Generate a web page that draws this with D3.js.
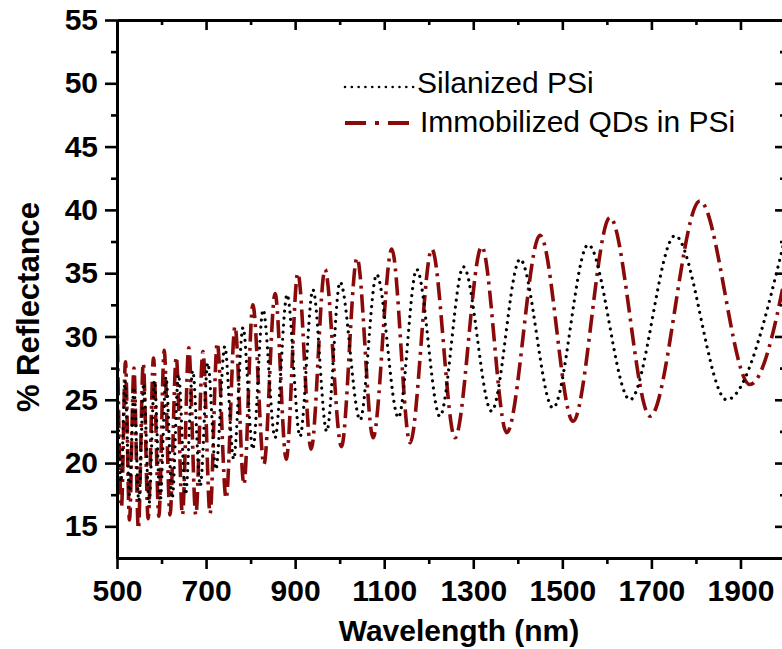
<!DOCTYPE html>
<html>
<head>
<meta charset="utf-8">
<script src="https://cdn.jsdelivr.net/npm/d3@7"></script>
<style>
  html, body { margin: 0; padding: 0; background: #fff; }
  svg { display: block; }
  text { font-family: "Liberation Sans", Arial, sans-serif; }
</style>
</head>
<body>
<div id="chart"></div>
<script>
// ---- data (fringe peaks and valleys) ----
const silWl = [500,509,518,528,538,549,560,572,584,597,610,624,638,654,670,687,704,722,742,762,783,805,828,855,882,911,940,971,1001,1046,1083,1132,1173,1225,1278,1341,1405,1479,1558,1652,1753,1869,2000];
const silR  = [27.0,18.5,26.5,17.5,26.0,17.0,26.3,16.8,26.5,17.0,26.8,17.2,27.0,17.5,27.3,18.2,27.9,19.5,29.2,20.3,30.7,21.1,32.1,22.0,33.3,22.1,33.7,22.5,34.3,23.4,34.9,23.6,35.3,23.7,35.5,24.1,36.1,24.35,37.25,25.0,37.96,25.0,37.8];

const qdWl = [500,510,519,528,538,548,559,570,582,594,606,619,633,647,661,677,693,709,725,745,765,785,805,830,855,880,906,936,967,1004,1039,1075,1117,1158,1207,1259,1319,1375,1450,1524,1607,1697,1809,1921,2030];
const qdR  = [32.0,16.5,28.0,15.5,27.5,14.8,27.9,15.6,28.3,15.8,28.9,15.9,28.4,15.9,29.1,15.9,28.8,16.0,29.5,17.2,30.8,18.3,32.5,19.9,33.4,20.3,35.0,21.1,35.3,21.3,36.2,22.0,36.9,21.6,36.9,22.0,37.1,22.4,38.0,23.3,39.4,23.7,40.7,26.2,40.5];

const xMajor = [500,700,900,1100,1300,1500,1700,1900];
const xMinor = [600,800,1000,1200,1400,1600,1800,2000];
const yMajor = [15,20,25,30,35,40,45,50,55];
const yMinor = [17.5,22.5,27.5,32.5,37.5,42.5,47.5,52.5];

const seriesNames = ["Silanized PSi", "Immobilized QDs in PSi"];
const xTitle = "Wavelength (nm)";
const yTitle = "% Reflectance";

// ---- layout ----
const W = 782, H = 649;
const L = 117, R = 785, T = 20, B = 558;
const red = "#8a0a0a";

const svg = d3.select("#chart").append("svg").attr("width", W).attr("height", H);

const x = d3.scaleLinear().domain([500, 2000]).range([L, R]);
const y = d3.scaleLinear().domain([12.5, 55]).range([B, T]);

svg.append("defs").append("clipPath").attr("id", "clip")
  .append("rect").attr("x", L).attr("y", T).attr("width", R - L).attr("height", B - T);

// ---- series ----
const line = d3.line().x(d => x(d[0])).y(d => y(d[1])).curve(d3.curveMonotoneX);
const silData = silWl.map((w, i) => [w, silR[i]]);
const qdData = qdWl.map((w, i) => [w, qdR[i]]);

const plot = svg.append("g").attr("clip-path", "url(#clip)");
plot.append("path").datum(qdData).attr("d", line)
  .attr("fill", "none").attr("stroke", red).attr("stroke-width", 3.6)
  .attr("stroke-dasharray", "18 6 3 6");
plot.append("path").datum(silData).attr("d", line)
  .attr("fill", "none").attr("stroke", "#000").attr("stroke-width", 3.2)
  .attr("stroke-linecap", "round").attr("stroke-dasharray", "0.01 7");

// ---- axes ----
function styleAxis(g) {
  g.select(".domain").attr("stroke-width", 3).attr("stroke", "#000");
  g.selectAll(".tick line").attr("stroke-width", 2.6).attr("stroke", "#000");
  g.selectAll(".tick text").attr("font-size", 30).attr("font-weight", "bold")
    .attr("fill", "#000").attr("font-family", '"Liberation Sans", Arial, sans-serif');
}

svg.append("g").attr("transform", `translate(0,${B})`)
  .call(d3.axisBottom(x).tickValues(xMinor).tickSize(6).tickFormat("").tickSizeOuter(0)).call(styleAxis);
svg.append("g").attr("transform", `translate(0,${B})`)
  .call(d3.axisBottom(x).tickValues(xMajor).tickSize(11).tickPadding(11).tickFormat(d3.format("d")).tickSizeOuter(0)).call(styleAxis);

svg.append("g").attr("transform", `translate(0,${T})`)
  .call(d3.axisTop(x).tickValues(xMinor).tickSize(-5).tickFormat("").tickSizeOuter(0)).call(styleAxis);
svg.append("g").attr("transform", `translate(0,${T})`)
  .call(d3.axisTop(x).tickValues(xMajor).tickSize(-10).tickFormat("").tickSizeOuter(0)).call(styleAxis);

svg.append("g").attr("transform", `translate(${L},0)`)
  .call(d3.axisLeft(y).tickValues(yMinor).tickSize(6).tickFormat("").tickSizeOuter(0)).call(styleAxis);
svg.append("g").attr("transform", `translate(${L},0)`)
  .call(d3.axisLeft(y).tickValues(yMajor).tickSize(12).tickPadding(7).tickFormat(d3.format("d")).tickSizeOuter(0)).call(styleAxis);

svg.append("g").attr("transform", `translate(${R},0)`)
  .call(d3.axisRight(y).tickValues(yMinor).tickSize(-5).tickFormat("").tickSizeOuter(0)).call(styleAxis);
svg.append("g").attr("transform", `translate(${R},0)`)
  .call(d3.axisRight(y).tickValues(yMajor).tickSize(-10).tickFormat("").tickSizeOuter(0)).call(styleAxis);

// ---- titles ----
svg.append("text").attr("x", 459).attr("y", 641).attr("text-anchor", "middle")
  .attr("font-size", 30).attr("font-weight", "bold").text(xTitle);
svg.append("text").attr("transform", "translate(39,307) rotate(-90)").attr("text-anchor", "middle")
  .attr("font-size", 31).attr("font-weight", "bold").text(yTitle);

// ---- legend ----
const lg = svg.append("g");
lg.append("line").attr("x1", 345).attr("x2", 415).attr("y1", 87).attr("y2", 87)
  .attr("stroke", "#000").attr("stroke-width", 2.6).attr("stroke-linecap", "round")
  .attr("stroke-dasharray", "0.01 6.8");
lg.append("text").attr("x", 417).attr("y", 93).attr("font-size", 30).text(seriesNames[0]);
lg.append("line").attr("x1", 345).attr("x2", 412).attr("y1", 123).attr("y2", 123)
  .attr("stroke", red).attr("stroke-width", 4)
  .attr("stroke-dasharray", "21 9 4 9 21");
lg.append("text").attr("x", 420).attr("y", 132).attr("font-size", 30).text(seriesNames[1]);
</script>
</body>
</html>
